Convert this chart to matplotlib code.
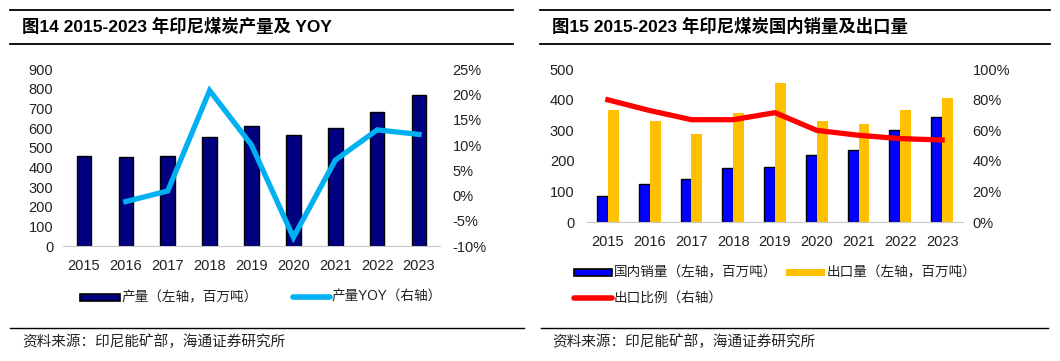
import matplotlib
matplotlib.use("Agg")
import matplotlib.pyplot as plt
from matplotlib.patches import Rectangle
from matplotlib.lines import Line2D
import numpy as np

plt.rcParams['font.family'] = ['Liberation Sans', 'Noto Sans CJK SC', 'DejaVu Sans']

years = ['2015', '2016', '2017', '2018', '2019', '2020', '2021', '2022', '2023']

# figure 14: production (million t) and yoy (%)
production = [460, 455, 460, 553, 611, 564, 603, 683, 771]
prod_yoy = [None, -1.2, 0.9, 20.8, 10.0, -8.3, 7.0, 13.0, 12.1]

# figure 15: domestic sales, exports (million t), export share (%)
domestic = [85, 126, 142, 177, 180, 221, 237, 300, 344]
exports = [367, 332, 287, 357, 456, 332, 322, 367, 407]
export_share = [80, 73, 67, 67, 71.6, 60, 56.8, 54.6, 53.7]

W, H = 1060, 361
fig = plt.figure(figsize=(W / 100, H / 100), dpi=100)


def fx(px):
    return px / W


def fy(py):
    return 1 - py / H


def hline(x0, x1, y, lw=1.3):
    fig.add_artist(Line2D([fx(x0), fx(x1)], [fy(y), fy(y)], color='black', lw=lw))


def style_axes(ax, ax2):
    for a in (ax, ax2):
        for s in a.spines.values():
            s.set_visible(False)
        a.tick_params(length=0, labelsize=10.5, colors='#222222')
    ax.spines['bottom'].set_visible(True)
    ax.spines['bottom'].set_color('#c8c8c8')
    ax.tick_params(axis='x', pad=9)


# frame lines and titles
hline(10, 513, 10)
hline(10, 513, 44)
hline(540, 1050, 10)
hline(540, 1050, 44)
hline(10, 524, 328, lw=1.0)
hline(541, 1048, 328, lw=1.0)
fig.text(fx(22), fy(27), '图14 2015-2023 年印尼煤炭产量及 YOY', fontsize=12.5,
         fontweight='bold', va='center', ha='left')
fig.text(fx(552), fy(27), '图15 2015-2023 年印尼煤炭国内销量及出口量', fontsize=12.5,
         fontweight='bold', va='center', ha='left')
fig.text(fx(22), fy(342), '资料来源：印尼能矿部，海通证券研究所', fontsize=10.5,
         va='center', ha='left', color='#222222')
fig.text(fx(552), fy(342), '资料来源：印尼能矿部，海通证券研究所', fontsize=10.5,
         va='center', ha='left', color='#222222')

# ---- left chart
x = np.arange(len(years))
ax1 = fig.add_axes([fx(63), fy(246), fx(440 - 63), (246 - 69.3) / H])
ax1b = ax1.twinx()
ax1.bar(x, production, width=0.35, color='#000080', edgecolor='black', linewidth=1)
yx = [i for i, v in enumerate(prod_yoy) if v is not None]
yv = [v for v in prod_yoy if v is not None]
ax1b.plot(yx, yv, color='#00B0F0', lw=3.8, solid_joinstyle='miter')
ax1.set_xlim(-0.5, 8.5)
ax1.set_ylim(0, 900)
ax1.set_yticks(range(0, 901, 100))
ax1b.set_ylim(-10, 25)
ax1b.set_yticks(range(-10, 26, 5))
ax1b.set_yticklabels([f'{v}%' for v in range(-10, 26, 5)])
ax1.set_xticks(x)
ax1.set_xticklabels(years)
style_axes(ax1, ax1b)
ax1.tick_params(axis='y', pad=7)
ax1b.tick_params(axis='y', pad=9)

# ---- right chart
ax2 = fig.add_axes([fx(587), fy(222), fx(963 - 587), (222 - 69.3) / H])
ax2b = ax2.twinx()
bw = 0.26
ax2.bar(x - bw / 2, domestic, width=bw, color='#0000FF', edgecolor='black', linewidth=1)
ax2.bar(x + bw / 2, exports, width=bw, color='#FFC000', edgecolor='none')
ax2b.plot(x, export_share, color='#FF0000', lw=3.8)
ax2.set_xlim(-0.5, 8.5)
ax2.set_ylim(0, 500)
ax2.set_yticks(range(0, 501, 100))
ax2b.set_ylim(0, 100)
ax2b.set_yticks(range(0, 101, 20))
ax2b.set_yticklabels([f'{v}%' for v in range(0, 101, 20)])
ax2.set_xticks(x)
ax2.set_xticklabels(years)
style_axes(ax2, ax2b)
ax2.tick_params(axis='y', pad=9)
ax2b.tick_params(axis='y', pad=7)

# ---- legends (drawn in figure pixels)
def legend_patch(x0, x1, y, color, text, edge=True):
    h = 7
    fig.add_artist(Rectangle((fx(x0), fy(y + h / 2)), fx(x1 - x0), h / H,
                             facecolor=color, edgecolor='black' if edge else 'none',
                             lw=1.2, transform=fig.transFigure))
    fig.text(fx(x1 + 2), fy(y), text, fontsize=9.8, va='center', ha='left', color='#222222')


def legend_line(x0, x1, y, color, text):
    fig.add_artist(Line2D([fx(x0), fx(x1)], [fy(y), fy(y)], color=color, lw=4,
                          solid_capstyle='round'))
    fig.text(fx(x1 + 2), fy(y), text, fontsize=9.8, va='center', ha='left', color='#222222')


legend_patch(80, 120, 297, '#000080', '产量（左轴，百万吨）')
legend_line(293, 330, 297, '#00B0F0', '产量YOY（右轴）')
legend_patch(574, 612, 272, '#0000FF', '国内销量（左轴，百万吨）')
legend_patch(786, 825, 272, '#FFC000', '出口量（左轴，百万吨）', edge=False)
legend_line(574, 612, 298, '#FF0000', '出口比例（右轴）')

fig.savefig('out.png', dpi=100)
